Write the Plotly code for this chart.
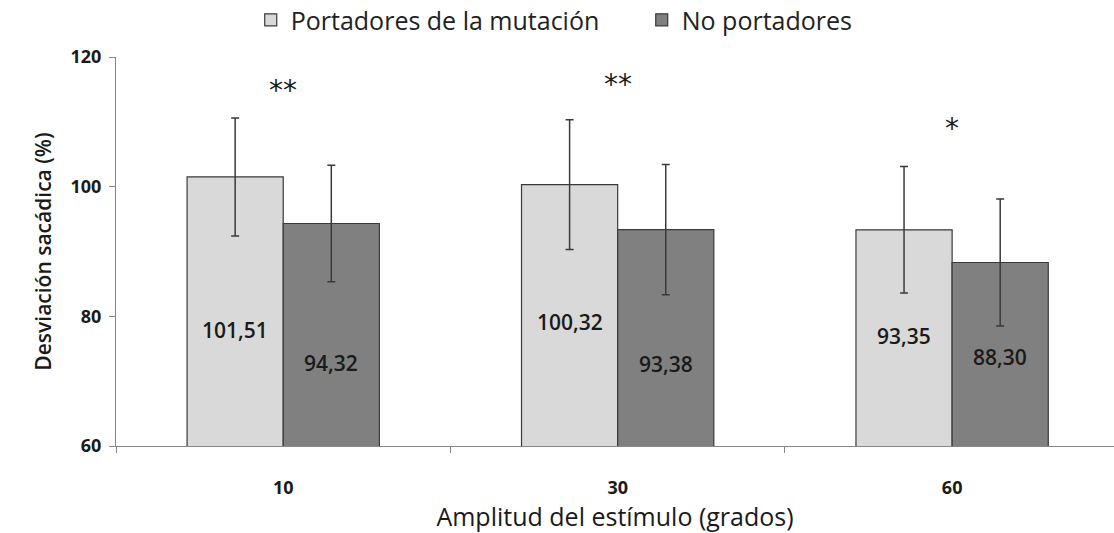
import plotly.graph_objects as go

categories = ["10", "30", "60"]
portadores = [101.51, 100.32, 93.35]
no_portadores = [94.32, 93.38, 88.30]
err_portadores = [9.1, 10.0, 9.75]
err_no_portadores = [9.0, 10.05, 9.8]
labels_portadores = ["101,51", "100,32", "93,35"]
labels_no_portadores = ["94,32", "93,38", "88,30"]
label_y_portadores = [77.9, 79.1, 76.9]
label_y_no_portadores = [72.8, 72.6, 73.8]
signif = ["**", "**", "*"]
signif_y = [114.8, 115.8, 109.0]

FONT = "Open Sans"
AX = "#868686"
TXT = "#1a1a1a"

fig = go.Figure()
fig.add_trace(go.Bar(
    name="Portadores de la mutación", x=categories, y=portadores,
    marker=dict(color="#d9d9d9", line=dict(color="#3a3a3a", width=1.2)),
    error_y=dict(type="data", array=err_portadores, color="#3a3a3a", thickness=1.5, width=4),
))
fig.add_trace(go.Bar(
    name="No portadores", x=categories, y=no_portadores,
    marker=dict(color="#808080", line=dict(color="#3a3a3a", width=1.2)),
    error_y=dict(type="data", array=err_no_portadores, color="#3a3a3a", thickness=1.5, width=4),
))

off = 0.2875 / 2
ann = []
for i in range(len(categories)):
    ann.append(dict(x=i - off, y=label_y_portadores[i], text=labels_portadores[i], showarrow=False,
                    font=dict(family=FONT, size=21, color=TXT, weight=600), xref="x", yref="y"))
    ann.append(dict(x=i + off, y=label_y_no_portadores[i], text=labels_no_portadores[i], showarrow=False,
                    font=dict(family=FONT, size=21, color=TXT, weight=600), xref="x", yref="y"))
    ann.append(dict(x=i, y=signif_y[i], text=signif[i], showarrow=False,
                    font=dict(family="DejaVu Sans", size=28, color=TXT), xref="x", yref="y"))

fig.update_layout(
    width=1114, height=533,
    margin=dict(l=116, r=0, t=57, b=87, autoexpand=False),
    paper_bgcolor="white", plot_bgcolor="white",
    barmode="group", bargap=0.425, bargroupgap=0,
    font=dict(family=FONT, color=TXT),
    showlegend=True,
    legend=dict(orientation="h", x=0.135, xanchor="left", y=1.095, yanchor="middle",
                font=dict(family=FONT, size=25, color="#222"), itemwidth=30,
                entrywidth=346, entrywidthmode="pixels", traceorder="normal"),
    annotations=ann,
    xaxis=dict(
        range=[-0.5, 2.484], showline=True, linecolor=AX, linewidth=1,
        ticks="outside", tickson="boundaries", ticklen=6, tickcolor=AX,
        tickfont=dict(family=FONT, size=18, color=TXT, weight="bold"),
        ticklabelstandoff=25,
        title=dict(text="Amplitud del estímulo (grados)", font=dict(family=FONT, size=25, color=TXT), standoff=2),
        showgrid=False, zeroline=False,
    ),
    yaxis=dict(
        range=[60, 120], tickvals=[60, 80, 100, 120], showline=True, linecolor=AX, linewidth=1,
        ticks="outside", ticklen=6, tickcolor=AX,
        tickfont=dict(family=FONT, size=18, color=TXT, weight="bold"),
        ticklabelstandoff=4,
        title=dict(text="Desviación sacádica (%)", font=dict(family=FONT, size=21, color=TXT, weight=600), standoff=13),
        showgrid=False, zeroline=False,
    ),
)

fig.write_html("out.html")
